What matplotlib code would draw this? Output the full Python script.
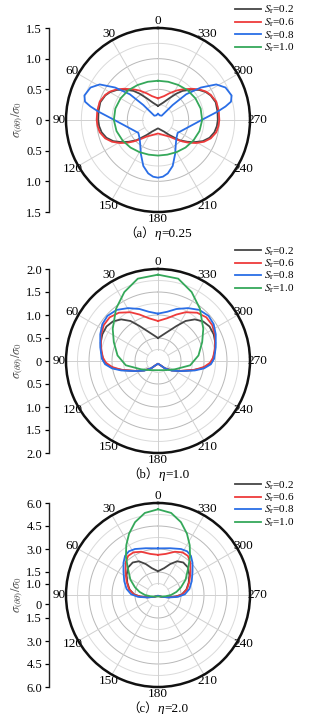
import numpy as np
import matplotlib
matplotlib.use('Agg')
import matplotlib.pyplot as plt

plt.rcParams['font.family'] = ['Liberation Serif', 'DejaVu Serif']
plt.rcParams['mathtext.fontset'] = 'stix'

# ---------------- data (half curves, theta in degrees 0..180, mirrored) -------------
series_labels = [r'$S_\mathrm{r}$=0.2', r'$S_\mathrm{r}$=0.6', r'$S_\mathrm{r}$=0.8', r'$S_\mathrm{r}$=1.0']
panel_eta = ['0.25', '1.0', '2.0']
panel_letters = ['a', 'b', 'c']
panel_rmax = [1.5, 2.0, 6.0]
theta_labels = ['0', '30', '60', '90', '120', '150', '180', '210', '240', '270', '300', '330']

# panel (a) eta = 0.25
a_black_t = [0, 15.9, 27.5, 34.9, 40.1, 48, 53.8, 59.7, 65, 72.9, 81.8, 90, 95.9, 102.3, 109, 115.3, 121, 126.5, 133.3, 142.9, 152.2, 180]
a_black_r = [0.23, 0.291, 0.40, 0.524, 0.621, 0.74, 0.83, 0.903, 0.948, 0.984, 0.98, 0.975, 0.965, 0.941, 0.889, 0.807, 0.70, 0.597, 0.481, 0.307, 0.215, 0.136]
a_red_t = [0, 14.4, 23, 32, 38.7, 47.2, 53.3, 59.2, 64.5, 72.5, 81.4, 90, 95.8, 101.9, 109.2, 115.3, 121.2, 126.5, 131.2, 137.9, 145.6, 159.8, 180]
a_red_r = [0.353, 0.403, 0.473, 0.566, 0.640, 0.750, 0.836, 0.908, 0.953, 0.996, 1.001, 1.0, 0.99, 0.971, 0.911, 0.830, 0.725, 0.622, 0.532, 0.418, 0.327, 0.261, 0.22]
a_blue_t = [0, 21.8, 40.6, 44.4, 47.6, 52.9, 58.6, 64.3, 71.6, 75.9, 78.7, 82.0, 89.2, 106.6, 123.3, 135, 144.1, 153, 162.3, 169.6, 175.1, 180]
a_blue_r = [0.10, 0.081, 0.092, 0.343, 0.623, 0.878, 1.113, 1.221, 1.265, 1.227, 1.122, 0.98, 0.73, 0.477, 0.383, 0.424, 0.494, 0.617, 0.787, 0.885, 0.928, 0.94]
a_green_t = [0, 15, 30, 45, 60, 75, 90, 105, 120, 135, 150, 165, 180]
a_green_r = [0.64, 0.645, 0.66, 0.685, 0.705, 0.72, 0.72, 0.70, 0.667, 0.635, 0.605, 0.585, 0.58]

# panel (b) eta = 1.0
b_black_t = [0, 17.6, 27.8, 34.6, 41.5, 48.7, 56.2, 64.4, 72.2, 80.8, 90, 94.7, 99.6, 104.9, 113.3, 124.3, 136.8, 150.9, 180]
b_black_r = [0.50, 0.661, 0.859, 1.057, 1.208, 1.304, 1.348, 1.342, 1.308, 1.251, 1.18, 1.094, 0.963, 0.776, 0.544, 0.363, 0.219, 0.103, 0.06]
b_red_t = [0, 12.1, 21.6, 29.5, 39, 47.9, 56.5, 65.7, 76.4, 86.2, 92, 97.4, 103.4, 113.3, 124.3, 136.8, 150.9, 180]
b_red_r = [0.87, 0.951, 1.086, 1.218, 1.351, 1.416, 1.414, 1.361, 1.276, 1.203, 1.131, 1.008, 0.822, 0.544, 0.363, 0.219, 0.103, 0.06]
b_blue_t = [0, 10.6, 19.5, 29.5, 39, 48.3, 56.5, 65.2, 76.6, 87.7, 93.5, 99.1, 104.4, 113.7, 125, 136.8, 150.9, 180]
b_blue_r = [1.03, 1.089, 1.199, 1.321, 1.429, 1.473, 1.451, 1.383, 1.29, 1.221, 1.152, 1.013, 0.826, 0.546, 0.366, 0.219, 0.103, 0.06]
b_green_t = [0, 13.8, 26, 38.6, 54.6, 66.9, 82.2, 97.6, 116, 137.7, 180]
b_green_r = [1.877, 1.843, 1.668, 1.459, 1.208, 1.044, 0.888, 0.706, 0.411, 0.268, 0.2]

# panel (c) eta = 2.0
c_black_t = [0, 12.9, 21.6, 29.6, 37.9, 47.3, 57.6, 68.2, 79.3, 88.9, 95, 102.1, 115.6, 180]
c_black_r = [1.55, 1.795, 2.173, 2.53, 2.686, 2.654, 2.427, 2.154, 1.883, 1.55, 1.154, 0.716, 0.277, 0.05]
c_red_t = [0, 10.6, 21.3, 29.9, 37.4, 44.3, 54.7, 66.3, 78.1, 88.2, 94.8, 102.1, 115.6, 180]
c_red_r = [2.62, 2.726, 3.027, 3.208, 3.21, 3.005, 2.597, 2.239, 1.942, 1.601, 1.204, 0.716, 0.277, 0.05]
c_blue_t = [0, 14.7, 26.6, 33.7, 40.1, 47, 56.3, 67.8, 79, 88.4, 95.3, 102.9, 115.6, 180]
c_blue_r = [3.04, 3.153, 3.354, 3.425, 3.335, 3.078, 2.704, 2.377, 2.089, 1.751, 1.306, 0.718, 0.277, 0.05]
c_green_t = [0, 9.1, 17.5, 25.3, 32.5, 39.9, 48.4, 60.9, 71.6, 80.5, 90, 99.1, 116.6, 180]
c_green_r = [5.59, 5.42, 4.98, 4.42, 3.85, 3.26, 2.63, 2.06, 1.58, 1.217, 0.85, 0.506, 0.224, 0.1]

# left linear axis ticks
a_axis_ticks = [1.5, 1.0, 0.5, 0, -0.5, -1.0, -1.5]
a_axis_labels = ['1.5', '1.0', '0.5', '0', '0.5', '1.0', '1.5']
b_axis_ticks = [2.0, 1.5, 1.0, 0.5, 0, -0.5, -1.0, -1.5, -2.0]
b_axis_labels = ['2.0', '1.5', '1.0', '0.5', '0', '0.5', '1.0', '1.5', '2.0']
c_axis_ticks = [6.0, 4.5, 3.0, 1.5, 0.75, -0.6, -1.5, -3.0, -4.5, -6.0]
c_axis_labels = ['6.0', '4.5', '3.0', '1.5', '1.0', '0', '1.5', '3.0', '4.5', '6.0']

panels = [
    ([(a_black_t, a_black_r), (a_red_t, a_red_r), (a_blue_t, a_blue_r), (a_green_t, a_green_r)], a_axis_ticks, a_axis_labels),
    ([(b_black_t, b_black_r), (b_red_t, b_red_r), (b_blue_t, b_blue_r), (b_green_t, b_green_r)], b_axis_ticks, b_axis_labels),
    ([(c_black_t, c_black_r), (c_red_t, c_red_r), (c_blue_t, c_blue_r), (c_green_t, c_green_r)], c_axis_ticks, c_axis_labels),
]

# ---------------- styling / layout ----------------
colors = ['#454545', '#ee3b3b', '#2a6ee6', '#35a85a']
W, H = 323, 714
cx = 158
centers_y = [120, 361, 595]
R = 92
axis_x = 49

fig = plt.figure(figsize=(W / 100, H / 100), dpi=100)


def mirror(t, r):
    t = np.asarray(t, float)
    r = np.asarray(r, float)
    tt = np.concatenate([t, 360 - t[::-1][1:]])
    rr = np.concatenate([r, r[::-1][1:]])
    return np.deg2rad(tt), rr


caption_parts = []
for i, (curves, ticks, tlabels) in enumerate(panels):
    rmax = panel_rmax[i]
    cy = centers_y[i]
    rect = [(cx - R) / W, 1 - (cy + R) / H, 2 * R / W, 2 * R / H]
    ax = fig.add_axes(rect, projection='polar')
    ax.set_theta_zero_location('N')
    ax.set_theta_direction(1)
    ax.set_ylim(0, rmax)
    ax.grid(False)
    ax.set_yticks([])
    ax.set_xticks(np.deg2rad(np.arange(0, 360, 30)))
    ax.set_xticklabels(theta_labels, fontsize=9.5)
    ax.set_xticks(np.deg2rad(np.arange(15, 360, 30)), minor=True)
    ax.tick_params(axis='x', which='major', direction='in', length=4, width=1.0, pad=-2)
    ax.tick_params(axis='x', which='minor', direction='in', length=2.5, width=0.8)
    ax.spines['polar'].set_linewidth(1.8)
    ax.spines['polar'].set_color('#111111')

    # grid rings and spokes
    step = rmax / 6 if i == 0 else rmax / 8
    tt = np.linspace(0, 2 * np.pi, 721)
    k = 1
    while step * k < rmax - 1e-9:
        rr = step * k
        col = '#b8b8b8' if k % 2 == 0 else '#dadada'
        ax.plot(tt, np.full_like(tt, rr), color=col, lw=0.7, zorder=1)
        k += 1
    for ang in range(0, 360, 30):
        ax.plot([np.deg2rad(ang)] * 2, [step, rmax], color='#d0d0d0', lw=0.7, zorder=1)

    for j, (t, r) in enumerate(curves):
        th, rr = mirror(t, r)
        ax.plot(th, rr, color=colors[j], lw=1.3, label=series_labels[j], zorder=3 + j)

    leg_top = cy - 116
    ax.legend(loc='upper left', bbox_to_anchor=(235 / W, 1 - leg_top / H),
              bbox_transform=fig.transFigure, frameon=False, fontsize=8,
              handlelength=2.3, handletextpad=0.3, labelspacing=0.0, borderpad=0,
              borderaxespad=0)

    # left linear axis
    lax = fig.add_axes([axis_x / W, 1 - (cy + R) / H, 0.0001, 2 * R / H])
    lax.set_ylim(-rmax, rmax)
    for s in ['top', 'right', 'bottom']:
        lax.spines[s].set_visible(False)
    lax.spines['left'].set_linewidth(1.0)
    lax.spines['left'].set_color('#222222')
    lax.set_xticks([])
    lax.set_yticks(ticks)
    lax.set_yticklabels(tlabels, fontsize=9)
    lax.tick_params(axis='y', direction='out', length=3, width=0.9, pad=2)
    lax.patch.set_alpha(0)
    fig.text(17 / W, 1 - cy / H, r'$\sigma_{(\theta\theta)}/\sigma_0$', rotation=90,
             ha='center', va='center', fontsize=9, color='#555555')

    # caption
    y_cap = 1 - (cy + 117) / H
    p1 = fig.text(0, y_cap, '（' + panel_letters[i] + '）', fontsize=9,
                  family=['Liberation Serif', 'Noto Sans CJK SC'], va='baseline')
    p2 = fig.text(0, y_cap, 'η', fontsize=9.5, style='italic', family='Liberation Serif', va='baseline')
    p3 = fig.text(0, y_cap, '=' + panel_eta[i], fontsize=9.5, family='Liberation Serif', va='baseline')
    caption_parts.append((p1, p2, p3))

fig.canvas.draw()
renderer = fig.canvas.get_renderer()
for parts in caption_parts:
    widths = [p.get_window_extent(renderer).width for p in parts]
    total = sum(widths)
    x0 = cx - total / 2
    for p, w in zip(parts, widths):
        p.set_x(x0 / W)
        x0 += w

fig.savefig('out.png', dpi=100)
